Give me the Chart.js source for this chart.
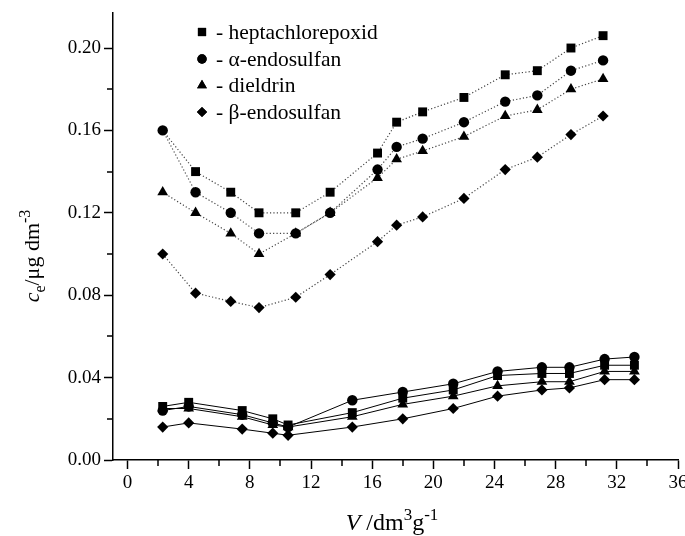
<!DOCTYPE html>
<html><head><meta charset="utf-8">
<script src="https://cdn.jsdelivr.net/npm/chart.js@4.4.0/dist/chart.umd.min.js"></script>
<style>html,body{margin:0;padding:0;background:#fff}#wrap{width:685px;height:536px;position:relative}</style>
</head><body><div id="wrap"><canvas id="c" width="685" height="536"></canvas></div>
<script>
// ---- data ----
const seriesNames = ['heptachlorepoxid', 'α-endosulfan', 'dieldrin', 'β-endosulfan'];
const xUpper = [2.3, 4.45, 6.75, 8.6, 11.0, 13.25, 16.35, 17.6, 19.3, 22.0, 24.7, 26.8, 29.0, 31.1];
const heptUpper = [0.160, 0.140, 0.130, 0.120, 0.120, 0.130, 0.149, 0.164, 0.169, 0.176, 0.187, 0.189, 0.200, 0.206];
const alphaUpper = [0.160, 0.130, 0.120, 0.110, 0.110, 0.120, 0.141, 0.152, 0.156, 0.164, 0.174, 0.177, 0.189, 0.194];
const dielUpper = [0.130, 0.120, 0.110, 0.100, 0.110, 0.120, 0.137, 0.146, 0.150, 0.157, 0.167, 0.170, 0.180, 0.185];
const betaUpper = [0.100, 0.081, 0.077, 0.074, 0.079, 0.090, 0.106, 0.114, 0.118, 0.127, 0.141, 0.147, 0.158, 0.167];

const xLower = [2.3, 4.0, 7.5, 9.5, 10.5, 14.7, 18.0, 21.3, 24.2, 27.1, 28.9, 31.2, 33.15];
const heptLower = [0.026, 0.028, 0.024, 0.020, 0.017, 0.023, 0.030, 0.034, 0.041, 0.042, 0.042, 0.046, 0.046];
const alphaLower = [0.024, 0.026, 0.022, 0.018, 0.016, 0.029, 0.033, 0.037, 0.043, 0.045, 0.045, 0.049, 0.050];
const dielLower = [0.025, 0.025, 0.021, 0.017, 0.016, 0.021, 0.027, 0.031, 0.036, 0.038, 0.038, 0.043, 0.043];
const betaLower = [0.016, 0.018, 0.015, 0.013, 0.012, 0.016, 0.020, 0.025, 0.031, 0.034, 0.035, 0.039, 0.039];

const xTickValues = [0, 4, 8, 12, 16, 20, 24, 28, 32, 36];
const xMinorTicks = [2, 6, 10, 14, 18, 22, 26, 30, 34];
const yTickValues = [0.00, 0.04, 0.08, 0.12, 0.16, 0.20];
const yMinorTicks = [0.02, 0.06, 0.10, 0.14, 0.18];

// ---- styles ----
const FONT = '"Liberation Serif", "Times New Roman", serif';
const markers = [
  {style: 'rect', r: 6.3},
  {style: 'circle', r: 5.2},
  {style: 'triangle', r: 6.2},
  {style: 'rectRot', r: 5.6}
];
const pts = (xs, ys) => xs.map((x, i) => ({x: x, y: ys[i]}));

function ds(i, xs, ys, upper, order, hideFirst) {
  const r = markers[i].r;
  return {
    label: seriesNames[i],
    data: pts(xs, ys),
    showLine: true,
    borderColor: upper ? '#444' : '#000',
    borderWidth: upper ? 1.2 : 1,
    borderDash: upper ? [1.2, 2.2] : [],
    pointStyle: markers[i].style,
    pointRadius: hideFirst ? (c => c.dataIndex === 0 ? 0 : r) : r,
    pointHoverRadius: r,
    pointBackgroundColor: '#000',
    pointBorderColor: '#000',
    pointBorderWidth: 0,
    order: order,
    clip: false
  };
}

const datasets = [
  ds(1, xUpper, alphaUpper, true, 1),
  ds(0, xUpper, heptUpper, true, 2, true),
  ds(2, xUpper, dielUpper, true, 3),
  ds(3, xUpper, betaUpper, true, 4),
  ds(0, xLower, heptLower, false, 5),
  ds(1, xLower, alphaLower, false, 6),
  ds(2, xLower, dielLower, false, 7),
  ds(3, xLower, betaLower, false, 8)
];

const decor = {
  id: 'decor',
  afterDraw(chart) {
    const ctx = chart.ctx;
    const xs = chart.scales.x, ys = chart.scales.y;
    const ca = chart.chartArea;
    ctx.save();
    // minor ticks
    ctx.strokeStyle = '#000';
    ctx.lineWidth = 1.5;
    ctx.beginPath();
    xMinorTicks.forEach(v => {
      const p = Math.round(xs.getPixelForValue(v));
      ctx.moveTo(p, ca.bottom); ctx.lineTo(p, ca.bottom + 6);
    });
    yMinorTicks.forEach(v => {
      const p = Math.round(ys.getPixelForValue(v));
      ctx.moveTo(ca.left, p); ctx.lineTo(ca.left - 6, p);
    });
    ctx.stroke();

    // legend
    ctx.fillStyle = '#000';
    ctx.textBaseline = 'middle';
    ctx.font = '21.5px ' + FONT;
    const legY = [32, 59, 85.5, 112];
    seriesNames.forEach((n, i) => {
      Chart.helpers.drawPoint(ctx, {pointStyle: markers[i].style, radius: markers[i].r - 0.5, borderWidth: 0}, 202, legY[i]);
      ctx.fill();
      ctx.fillText('- ' + n, 216, legY[i] + 1);
    });

    // x title
    ctx.textBaseline = 'alphabetic';
    const drawParts = (parts, x0, y0) => {
      let x = x0;
      parts.forEach(p => { ctx.font = p.f; ctx.fillText(p.t, x, y0 + p.dy); x += ctx.measureText(p.t).width; });
    };
    const widthOf = parts => parts.reduce((s, p) => { ctx.font = p.f; return s + ctx.measureText(p.t).width; }, 0);
    const big = '24px ' + FONT, bigI = 'italic 24px ' + FONT, sm = '17px ' + FONT;
    const xParts = [
      {t: 'V', f: bigI, dy: 0},
      {t: ' /dm', f: big, dy: 0},
      {t: '3', f: sm, dy: -10},
      {t: 'g', f: big, dy: 0},
      {t: '-1', f: sm, dy: -10}
    ];
    const xw = widthOf(xParts);
    drawParts(xParts, 392 - xw / 2, 530);

    // y title
    const yb = '22px ' + FONT, ybI = 'italic 22px ' + FONT, ysm = '16px ' + FONT;
    const yParts = [
      {t: 'c', f: ybI, dy: 0},
      {t: 'e', f: ysm, dy: 6},
      {t: '/μg dm', f: yb, dy: 0},
      {t: '-3', f: ysm, dy: -9}
    ];
    const yw = widthOf(yParts);
    ctx.translate(39, 256);
    ctx.rotate(-Math.PI / 2);
    drawParts(yParts, -yw / 2, 0);
    ctx.restore();
  }
};

new Chart(document.getElementById('c'), {
  type: 'scatter',
  data: {datasets: datasets},
  options: {
    responsive: false,
    animation: false,
    events: [],
    layout: {padding: {left: 0, right: 7, top: 13, bottom: 0}},
    plugins: {legend: {display: false}, tooltip: {enabled: false}},
    scales: {
      x: {
        type: 'linear', min: -0.95, max: 36,
        afterBuildTicks: s => { s.ticks = xTickValues.map(v => ({value: v})); },
        afterFit: s => { s.height = 76; s.paddingLeft = 0; s.paddingRight = 0; },
        ticks: {autoSkip: false, maxRotation: 0, color: '#000', font: {family: FONT, size: 19}, padding: 3,
                callback: v => String(v)},
        grid: {drawOnChartArea: false, drawTicks: true, tickLength: 9, tickColor: '#000', tickWidth: 1.5},
        border: {display: true, color: '#000', width: 1.5}
      },
      y: {
        type: 'linear', min: 0, max: 0.217,
        afterBuildTicks: s => { s.ticks = yTickValues.map(v => ({value: v})); },
        afterFit: s => { s.width = 113; s.paddingTop = 0; s.paddingBottom = 0; },
        ticks: {autoSkip: false, color: '#000', font: {family: FONT, size: 19}, padding: 3,
                callback: v => Number(v).toFixed(2)},
        grid: {drawOnChartArea: false, drawTicks: true, tickLength: 9, tickColor: '#000', tickWidth: 1.5},
        border: {display: true, color: '#000', width: 1.5}
      }
    }
  },
  plugins: [decor]
});
</script>
</body></html>
